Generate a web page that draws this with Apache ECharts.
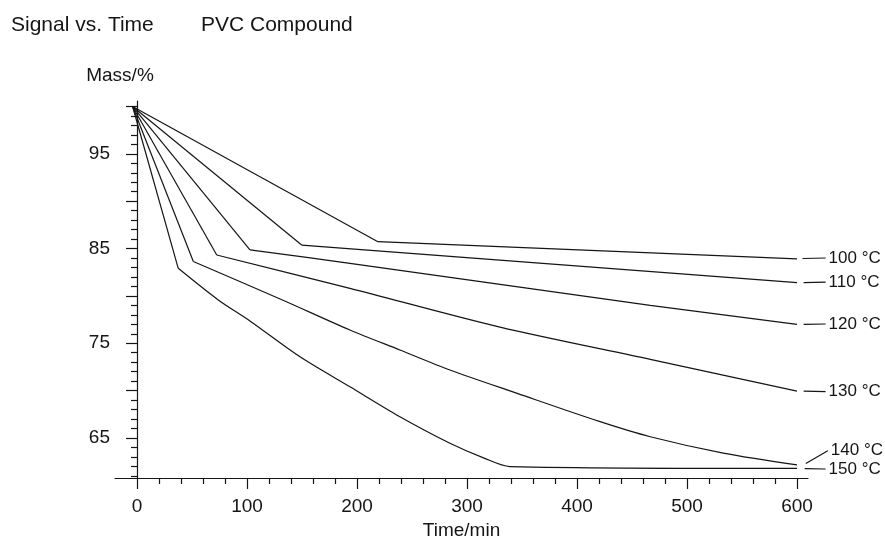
<!DOCTYPE html>
<html>
<head>
<meta charset="utf-8">
<script src="https://cdn.jsdelivr.net/npm/echarts@6/dist/echarts.min.js"></script>
<style>html,body{margin:0;padding:0;background:#fff}#c{width:885px;height:542px}</style>
</head>
<body>
<div id="c"></div>
<script>
// ---- data (time in min, mass in %) ----
var seriesNames = ['100 °C', '110 °C', '120 °C', '130 °C', '140 °C', '150 °C'];
// initial straight drop: start point, then break point and later points of each curve
var startPoint = [-4, 100];
var t100 = [[219, 85.72], [600, 83.9]];
var t110 = [[149.7, 85.37], [600, 81.4]];
var t120 = [[102.7, 84.85], [193.6, 83.44], [466.6, 79.0], [600, 77.0]];
var t130 = [[72.5, 84.32], [193.6, 80.8], [330, 76.7], [466.6, 73.3], [600, 69.95]];
var t140 = [[51.2, 83.63], [132.2, 79.57], [193.6, 76.4], [239, 74.29], [284.5, 72.18],
            [345.6, 69.71], [421, 66.72], [466.6, 65.13], [533, 63.4], [600, 62.15]];
var t150 = [[37.5, 82.91], [73.9, 79.57], [103.6, 77.28], [148.2, 73.57], [193.6, 70.4],
            [239, 67.24], [284.5, 64.44], [315, 62.9], [339, 61.98], [600, 61.78]];
// label leader lines: [start time, start mass, end time, end mass]
var leaders = [
  [605, 83.95, 626, 84.0],
  [606, 81.4, 626, 81.45],
  [606, 77.0, 626, 77.03],
  [606, 69.95, 626, 69.9],
  [608, 62.3, 628, 63.65],
  [607, 61.75, 626, 61.72]
];
var xLabelTicks = [0, 100, 200, 300, 400, 500, 600];
var xMinorTicks = [20, 40, 60, 80, 120, 140, 160, 180, 220, 240, 260, 280, 320, 340, 360, 380,
                   420, 440, 460, 480, 520, 540, 560, 580];
var yLabelTicks = [65, 75, 85, 95];
var yMajorTicks = [65, 70, 75, 80, 85, 90, 95, 100];
var yMinorTicks = [61, 62, 63, 64, 66, 67, 68, 69, 71, 72, 73, 74, 76, 77, 78, 79, 81, 82, 83, 84,
                   86, 87, 88, 89, 91, 92, 93, 94, 96, 97, 98, 99];

var curves = [t100, t110, t120, t130, t140, t150];
var FONT = 'Liberation Sans, Arial, sans-serif';
var INK = '#151515';

var xMin = -20, xMax = 610, yMin = 60.77, yMax = 100.58;
var pxPerMin = 1.1;
var gridLeft = 115, gridRight = 77, gridTop = 101, gridBottom = 64;
var xMax2 = xMin + (885 - 15 - gridLeft) / pxPerMin;

var chart = echarts.init(document.getElementById('c'), null, {renderer: 'canvas'});
var series = [];
curves.forEach(function (d, k) {
  series.push({
    type: 'line', data: [startPoint, d[0]], xAxisIndex: 0, yAxisIndex: 0,
    showSymbol: false, symbol: 'none', silent: true,
    lineStyle: {color: INK, width: 1.2}
  });
  series.push({
    type: 'line', data: d, xAxisIndex: 0, yAxisIndex: 0,
    showSymbol: false, symbol: 'none', smooth: d.length > 3 ? 0.3 : false, silent: true,
    lineStyle: {color: INK, width: 1.2}
  });
});
leaders.forEach(function (l, k) {
  series.push({
    type: 'line', silent: true, xAxisIndex: 2, yAxisIndex: 2, name: seriesNames[k],
    symbol: 'none', showSymbol: false,
    lineStyle: {color: INK, width: 1.2},
    data: [[l[0], l[1]], [l[2], l[3]]],
    endLabel: {show: true, formatter: seriesNames[k], distance: 3,
      color: INK, fontSize: 17, fontFamily: FONT}
  });
});

chart.setOption({
  animation: false,
  backgroundColor: '#fff',
  title: [
    {text: 'Signal vs. Time', left: 6, top: 10, textStyle: {fontSize: 21, fontWeight: 'normal', color: INK, fontFamily: FONT}},
    {text: 'PVC Compound', left: 196, top: 10, textStyle: {fontSize: 21, fontWeight: 'normal', color: INK, fontFamily: FONT}}
  ],
  grid: [
    {left: gridLeft, right: gridRight, top: gridTop, bottom: gridBottom, containLabel: false, outerBoundsMode: 'none'},
    {left: gridLeft, right: 15, top: gridTop, bottom: gridBottom, containLabel: false, outerBoundsMode: 'none'}
  ],
  xAxis: [
    {type: 'value', gridIndex: 0, min: xMin, max: xMax, position: 'bottom',
      name: 'Time/min', nameLocation: 'middle', nameGap: 43,
      nameTextStyle: {fontSize: 19, color: INK, fontFamily: FONT},
      axisLine: {show: true, lineStyle: {color: INK, width: 1.2}},
      axisTick: {show: true, customValues: xLabelTicks, length: 11, lineStyle: {color: INK, width: 1.2}},
      axisLabel: {show: true, customValues: xLabelTicks, margin: 19, fontSize: 19, color: INK, fontFamily: FONT},
      splitLine: {show: false}},
    {type: 'value', gridIndex: 0, min: xMin, max: xMax, position: 'bottom',
      axisLine: {show: false},
      axisTick: {show: true, customValues: xMinorTicks, length: 6, lineStyle: {color: INK, width: 1.2}},
      axisLabel: {show: false}, splitLine: {show: false}},
    {type: 'value', gridIndex: 1, min: xMin, max: xMax2, show: false}
  ],
  yAxis: [
    {type: 'value', gridIndex: 0, min: yMin, max: yMax, position: 'left', offset: -7,
      name: 'Mass/%', nameLocation: 'end', nameGap: 16,
      nameTextStyle: {fontSize: 19, color: INK, fontFamily: FONT, align: 'center', padding: [0, 34, 0, 0]},
      axisLine: {show: true, lineStyle: {color: INK, width: 1.2}},
      axisTick: {show: true, customValues: yMajorTicks, length: 11, lineStyle: {color: INK, width: 1.2}},
      axisLabel: {show: true, customValues: yLabelTicks, margin: 12, fontSize: 19, color: INK, fontFamily: FONT},
      splitLine: {show: false}},
    {type: 'value', gridIndex: 0, min: yMin, max: yMax, position: 'left', offset: -7,
      axisLine: {show: false},
      axisTick: {show: true, customValues: yMinorTicks, length: 6, lineStyle: {color: INK, width: 1.2}},
      axisLabel: {show: false}, splitLine: {show: false}},
    {type: 'value', gridIndex: 1, min: yMin, max: yMax, show: false}
  ],
  series: series
});
</script>
</body>
</html>
